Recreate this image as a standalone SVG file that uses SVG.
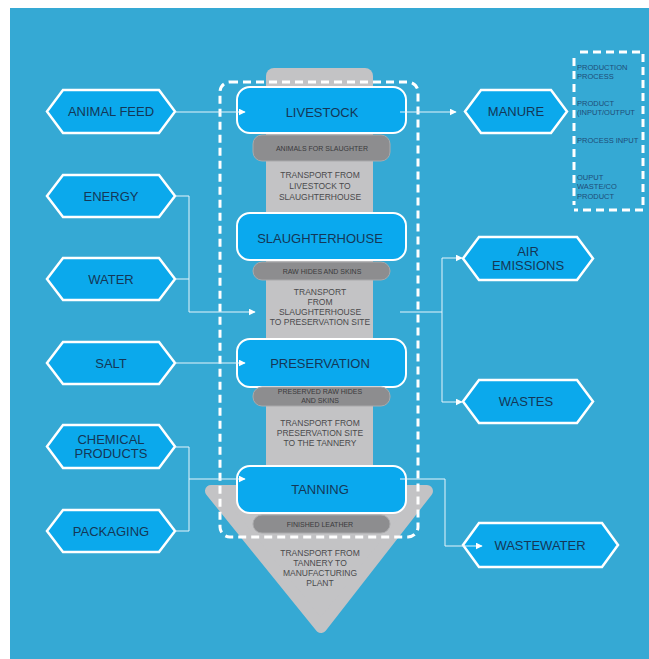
<svg xmlns="http://www.w3.org/2000/svg" width="649" height="659" viewBox="0 0 649 659">
<defs>
<style>
.bg{fill:#35a9d4}
.col{fill:#c3c3c5}
.proc{fill:#0aa9ee;stroke:#ffffff;stroke-width:2}
.pill{fill:#8d8d8f;stroke:#a9a9ab;stroke-width:1}
.hex{fill:#0ba9ec;stroke:#ffffff;stroke-width:2.5;stroke-linejoin:miter}
.lbl{font-family:"Liberation Sans",Arial,sans-serif;font-size:13px;fill:#143757;text-anchor:middle}
.plbl{font-family:"Liberation Sans",Arial,sans-serif;font-size:7px;fill:#3a3a3c;text-anchor:middle}
.tlbl{font-family:"Liberation Sans",Arial,sans-serif;font-size:8.5px;fill:#4a4a4c;text-anchor:middle}
.leg{font-family:"Liberation Sans",Arial,sans-serif;font-size:7.5px;fill:#1f4d78}
.dash{fill:none;stroke:#ffffff;stroke-width:3;stroke-dasharray:8 5}
.conn{fill:none;stroke:#e6f4fb;stroke-width:1}
</style>
<marker id="arr" viewBox="0 0 10 10" refX="9" refY="5" markerWidth="7" markerHeight="7" orient="auto" markerUnits="userSpaceOnUse">
<path d="M0,0 L10,5 L0,10 z" fill="#ffffff"/>
</marker>
</defs>
<rect x="0" y="0" width="649" height="659" fill="#ffffff"/>
<rect class="bg" x="10" y="8" width="639" height="651"/>

<g id="column">
<rect class="col" x="266" y="68" width="107" height="430" rx="8"/>
<polygon class="col" points="211,491 427,491 321,627" stroke="#c3c3c5" stroke-width="12" stroke-linejoin="round"/>
</g>

<g id="livestock">
<rect class="proc" x="237" y="87" width="169" height="46" rx="13"/>
<text class="lbl" x="322" y="117">LIVESTOCK</text>
</g>
<g id="animals-for-slaughter">
<rect class="pill" x="253" y="135" width="137" height="26" rx="9"/>
<text class="plbl" x="322" y="151">ANIMALS FOR SLAUGHTER</text>
</g>
<g id="transport-1">
<text class="tlbl" x="320" y="178">TRANSPORT FROM</text>
<text class="tlbl" x="320" y="189">LIVESTOCK TO</text>
<text class="tlbl" x="320" y="200">SLAUGHTERHOUSE</text>
</g>
<g id="slaughterhouse">
<rect class="proc" x="237" y="213" width="169" height="47" rx="13"/>
<text class="lbl" x="320" y="243">SLAUGHTERHOUSE</text>
</g>
<g id="raw-hides">
<rect class="pill" x="253" y="262" width="137" height="18" rx="9"/>
<text class="plbl" x="322" y="273.5">RAW HIDES AND SKINS</text>
</g>
<g id="transport-2">
<text class="tlbl" x="320" y="295">TRANSPORT</text>
<text class="tlbl" x="320" y="305">FROM</text>
<text class="tlbl" x="320" y="315">SLAUGHTERHOUSE</text>
<text class="tlbl" x="320" y="325">TO PRESERVATION SITE</text>
</g>
<g id="preservation">
<rect class="proc" x="237" y="339" width="169" height="48" rx="13"/>
<text class="lbl" x="320" y="368">PRESERVATION</text>
</g>
<g id="preserved-raw-hides">
<rect class="pill" x="253" y="387" width="137" height="19" rx="9"/>
<text class="plbl" x="320" y="394">PRESERVED RAW HIDES</text>
<text class="plbl" x="320" y="402.5">AND SKINS</text>
</g>
<g id="transport-3">
<text class="tlbl" x="320" y="426">TRANSPORT FROM</text>
<text class="tlbl" x="320" y="436">PRESERVATION SITE</text>
<text class="tlbl" x="320" y="446">TO THE TANNERY</text>
</g>
<g id="tanning">
<rect class="proc" x="237" y="466" width="169" height="47" rx="13"/>
<text class="lbl" x="320" y="494">TANNING</text>
</g>
<g id="finished-leather">
<rect class="pill" x="253" y="515" width="137" height="18" rx="9"/>
<text class="plbl" x="320" y="526.5">FINISHED LEATHER</text>
</g>
<g id="transport-4">
<text class="tlbl" x="320" y="556">TRANSPORT FROM</text>
<text class="tlbl" x="320" y="566">TANNERY TO</text>
<text class="tlbl" x="320" y="576">MANUFACTURING</text>
<text class="tlbl" x="320" y="586">PLANT</text>
</g>

<g id="production-boundary">
<rect class="dash" x="220" y="82" width="198" height="455" rx="10"/>
</g>

<g id="animal-feed">
<polygon class="hex" points="47,111.5 63,90 159,90 175,111.5 159,133 63,133"/>
<text class="lbl" x="111" y="116">ANIMAL FEED</text>
</g>
<g id="energy">
<polygon class="hex" points="47,196 63,175 159,175 175,196 159,217 63,217"/>
<text class="lbl" x="111" y="200.5">ENERGY</text>
</g>
<g id="water">
<polygon class="hex" points="47,279 63,258 159,258 175,279 159,300 63,300"/>
<text class="lbl" x="111" y="283.5">WATER</text>
</g>
<g id="salt">
<polygon class="hex" points="47,363 63,342 159,342 175,363 159,384 63,384"/>
<text class="lbl" x="111" y="367.5">SALT</text>
</g>
<g id="chemical-products">
<polygon class="hex" points="47,446.5 63,425 159,425 175,446.5 159,468 63,468"/>
<text class="lbl" x="111" y="444">CHEMICAL</text>
<text class="lbl" x="111" y="458">PRODUCTS</text>
</g>
<g id="packaging">
<polygon class="hex" points="47,531 63,510 159,510 175,531 159,552 63,552"/>
<text class="lbl" x="111" y="535.5">PACKAGING</text>
</g>

<g id="manure">
<polygon class="hex" points="465,111.5 481,90 551,90 567,111.5 551,133 481,133"/>
<text class="lbl" x="516" y="116">MANURE</text>
</g>
<g id="air-emissions">
<polygon class="hex" points="463,258.5 479,237 577,237 593,258.5 577,280 479,280"/>
<text class="lbl" x="528" y="256">AIR</text>
<text class="lbl" x="528" y="270">EMISSIONS</text>
</g>
<g id="wastes">
<polygon class="hex" points="463,401.5 479,380 577,380 593,401.5 577,423 479,423"/>
<text class="lbl" x="526" y="406">WASTES</text>
</g>
<g id="wastewater">
<polygon class="hex" points="463,545 479,523 602,523 618,545 602,567 479,567"/>
<text class="lbl" x="540" y="549.5">WASTEWATER</text>
</g>

<g id="connectors">
<line class="conn" x1="175" y1="112" x2="245" y2="112" marker-end="url(#arr)"/>
<line class="conn" x1="400" y1="112" x2="456" y2="112" marker-end="url(#arr)"/>
<polyline class="conn" points="175,196 189,196 189,312 255,312" marker-end="url(#arr)"/>
<line class="conn" x1="175" y1="279" x2="189" y2="279"/>
<line class="conn" x1="175" y1="363" x2="245" y2="363" marker-end="url(#arr)"/>
<polyline class="conn" points="175,447 189,447 189,531 175,531"/>
<line class="conn" x1="189" y1="479" x2="245" y2="479" marker-end="url(#arr)"/>
<line class="conn" x1="400" y1="312" x2="442" y2="312"/>
<polyline class="conn" points="442,312 442,258 462,258" marker-end="url(#arr)"/>
<polyline class="conn" points="442,312 442,402 462,402" marker-end="url(#arr)"/>
<polyline class="conn" points="400,479 445,479 445,546 482,546" marker-end="url(#arr)"/>
</g>

<g id="legend">
<path d="M574,58 V205 M580,52 H643 V210 H574" class="dash" stroke-width="2" stroke-dasharray="6 5"/>
<text class="leg" x="577" y="70">PRODUCTION</text>
<text class="leg" x="577" y="79">PROCESS</text>
<text class="leg" x="577" y="106">PRODUCT</text>
<text class="leg" x="577" y="115">(INPUT/OUTPUT</text>
<text class="leg" x="577" y="143">PROCESS INPUT</text>
<text class="leg" x="577" y="180">OUPUT</text>
<text class="leg" x="577" y="189">WASTE/CO</text>
<text class="leg" x="577" y="199">PRODUCT</text>
</g>
</svg>
